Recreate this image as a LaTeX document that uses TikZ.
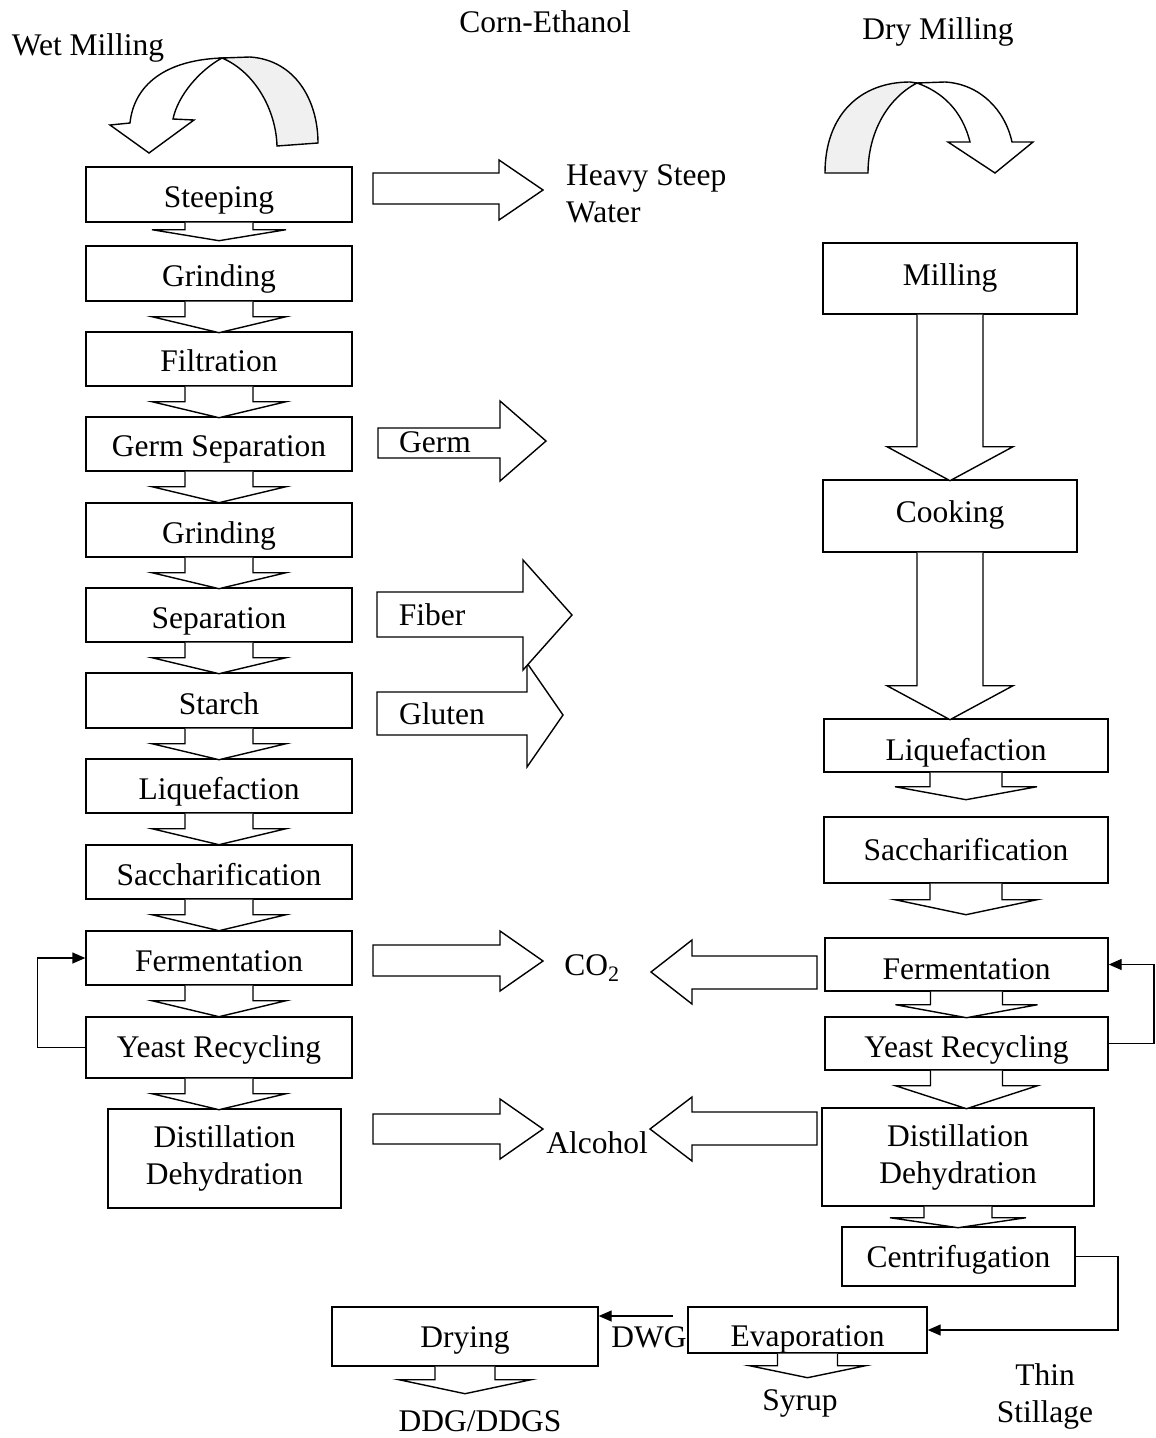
\documentclass[tikz,border=0pt]{standalone}
\usepackage{fontspec}
\setmainfont{Liberation Serif}
\usetikzlibrary{arrows.meta,calc}
\tikzset{
  box/.style={draw, line width=1.4pt, fill=white, inner sep=0pt, align=center},
  blk/.style={draw, line width=1.4pt, fill=white, line join=miter},
  lbl/.style={inner sep=0pt, align=center},
  conn/.style={line width=1.4pt},
  tip/.style={-{Triangle[length=13pt,width=11pt]}},
  ribbon/.style={fill=gray!12}
}
% single-line box: name, x1, y1, x2, y2, baseline offset below centre, text
\newcommand\bx[7]{\node[box, minimum width={#4-#2}, minimum height={#5-#3}, text height={2*#6pt}, text depth=0pt] (#1) at ({(#2+#4)/2},{(#3+#5)/2}) {#7};}
% two-line box: name, x1, y1, x2, y2, text
\newcommand\bxx[6]{\node[box, minimum width={#4-#2}, minimum height={#5-#3}] (#1) at ({(#2+#4)/2},{(#3+#5)/2}) {#6};}
% block arrow going down from the south of a node: node, half shaft, half head, shaft length, head length
\newcommand\flowd[5]{%
  \draw[blk] let \p1=(#1.south) in
   (\x1-#2pt,\y1) -- (\x1-#2pt,\y1-#4pt) -- (\x1-#3pt,\y1-#4pt) -- (\x1,\y1-#4pt-#5pt)
   -- (\x1+#3pt,\y1-#4pt) -- (\x1+#2pt,\y1-#4pt) -- (\x1+#2pt,\y1);}
% horizontal block arrow: shaft start x, head base x, tip x, shaft top, shaft bottom, head top, head bottom
\newcommand\harr[7]{\draw[blk] (#1,#4) -- (#2,#4) -- (#2,#6) -- (#3,{(#6+#7)/2}) -- (#2,#7) -- (#2,#5) -- (#1,#5) -- cycle;}
\begin{document}
\begin{tikzpicture}[x=1pt,y=-1pt, font=\fontsize{31.5}{37}\selectfont]
\useasboundingbox (0,0) rectangle (1156,1438);

% titles
\node[lbl] (twet) at (88,48) {Wet Milling};
\node[lbl] (tcorn) at (545,22) {Corn-Ethanol};
\node[lbl] (tdry) at (938,32) {Dry Milling};

% curved arrows
\draw[blk, ribbon] (222,58) -- (250,57) .. controls (295,60) and (318,100) .. (318,143)
  -- (277,146) .. controls (276,110) and (255,72) .. (222,58) -- cycle;
\draw[blk] (110,125) -- (130,123) .. controls (134,85) and (165,60) .. (222,58)
  .. controls (200,70) and (178,95) .. (173,119) -- (194,120) -- (149,153) -- cycle;
\draw[blk, ribbon] (825,173) .. controls (825,115) and (860,82) .. (910,82) -- (917,83)
  .. controls (888,98) and (868,132) .. (868,173) -- cycle;
\draw[blk] (917,83) -- (945,82) .. controls (980,84) and (1005,110) .. (1012,142) -- (1033,142)
  -- (995,173) -- (948,142) -- (970,142) .. controls (962,110) and (942,92) .. (917,83) -- cycle;

% left column
\bx{steep}{86}{167}{352}{222}{12.5}{Steeping}
\bx{grindA}{86}{246}{352}{301}{13}{Grinding}
\bx{filt}{86}{332}{352}{386}{12.5}{Filtration}
\bx{germ}{86}{417}{352}{471}{12.5}{Germ Separation}
\bx{grindB}{86}{503}{352}{557}{13.5}{Grinding}
\bx{sep}{86}{588}{352}{642}{13.5}{Separation}
\bx{starch}{86}{673}{352}{728}{13.5}{Starch}
\bx{liq}{86}{759}{352}{813}{13.5}{Liquefaction}
\bx{sacch}{86}{845}{352}{899}{13.5}{Saccharification}
\bx{ferm}{86}{931}{352}{985}{13.5}{Fermentation}
\bx{yeast}{86}{1017}{352}{1078}{9.5}{Yeast Recycling}
\bxx{dist}{108}{1109}{341}{1208}{Distillation\\Dehydration}

\flowd{steep}{34}{67}{7}{11}
\flowd{grindA}{34}{67}{15}{16}
\flowd{filt}{34}{67}{15}{16}
\flowd{germ}{34}{67}{15}{16}
\flowd{grindB}{34}{67}{15}{16}
\flowd{sep}{34}{67}{15}{16}
\flowd{starch}{34}{67}{15}{16}
\flowd{liq}{34}{67}{15}{16}
\flowd{sacch}{34}{67}{15}{16}
\flowd{ferm}{34}{67}{15}{16}
\flowd{yeast}{34}{67}{15}{16}

\draw[conn, tip] (yeast.west) -- ++(-48,0) |- (ferm.west);

% right column
\bx{mill}{823}{243}{1077}{314}{7}{Milling}
\bx{cook}{823}{480}{1077}{552}{6.5}{Cooking}
\bx{rliq}{824}{719}{1108}{772}{14.5}{Liquefaction}
\bx{rsacch}{824}{817}{1108}{883}{10.5}{Saccharification}
\bx{rferm}{825}{938}{1108}{991}{14.5}{Fermentation}
\bx{ryeast}{825}{1017}{1108}{1070}{14}{Yeast Recycling}
\bxx{rdist}{822}{1108}{1094}{1206}{Distillation\\Dehydration}
\bx{cent}{842}{1227}{1075}{1286}{10.5}{Centrifugation}
\bx{evap}{688}{1307}{927}{1353}{16.5}{Evaporation}
\bx{dry}{332}{1307}{598}{1366}{10.5}{Drying}

\flowd{mill}{33}{63}{132}{34}
\flowd{cook}{33}{63}{133}{34}
\flowd{rliq}{36}{71}{14}{13}
\flowd{rsacch}{36}{71}{16}{15}
\flowd{rferm}{36}{71}{13}{13}
\flowd{ryeast}{36}{71}{15}{23}
\flowd{rdist}{34}{68}{11}{10}
\flowd{evap}{30}{58}{12}{12}
\flowd{dry}{30}{66}{13}{14}

\draw[conn, tip] (ryeast.east) -- (1154,1043.5) |- (rferm.east);
\draw[conn, tip] (cent.east) -- (1118,1256.5) |- (evap.east);
\coordinate (dwgs) at (673,1316);
\draw[conn, tip] (dwgs) -- (dwgs -| dry.east);

% side block arrows
\harr{373}{499}{543}{173}{204}{160}{220}
\harr{378}{500}{546}{428}{458}{401}{481}
\harr{377}{527}{563}{692}{735}{663}{767}
\harr{377}{523}{572}{592}{637}{560}{670}
\harr{373}{500}{543}{945}{976}{931}{991}
\harr{373}{500}{543}{1114}{1144}{1099}{1159}
\harr{817}{692}{651}{956}{989}{940}{1004}
\harr{817}{692}{650}{1112}{1145}{1097}{1161}

% labels
\node[lbl, anchor=west, align=left] (thsw) at (566,194) {Heavy Steep\\Water};
\node[lbl] (tgerm) at (435,442) {Germ};
\node[lbl] (tfiber) at (432,615) {Fiber};
\node[lbl] (tgluten) at (442,714) {Gluten};
\node[lbl] (tco2) at (592,968) {CO\textsubscript{2}};
\node[lbl] (talc) at (597,1143) {Alcohol};
\node[lbl] (tdwg) at (649,1337) {DWG};
\node[lbl] (tsyrup) at (800,1403) {Syrup};
\node[lbl] (tddg) at (480,1421) {DDG/DDGS};
\node[lbl] (tthin) at (1045,1396) {Thin\\Stillage};
\end{tikzpicture}
\end{document}
